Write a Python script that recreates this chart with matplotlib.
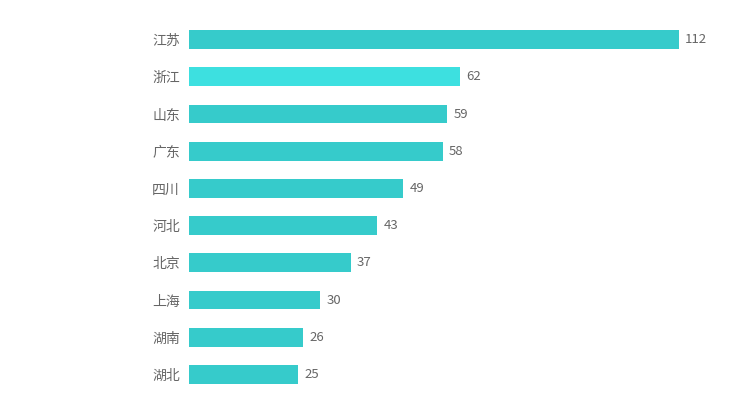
import matplotlib
matplotlib.use("Agg")
import matplotlib.pyplot as plt

plt.rcParams['font.family'] = ['Noto Sans CJK SC', 'DejaVu Sans']

# Data
provinces = ["江苏", "浙江", "山东", "广东", "四川", "河北", "北京", "上海", "湖南", "湖北"]
counts = [112, 62, 59, 58, 49, 43, 37, 30, 26, 25]
highlight = "浙江"

base_color = "#36cbcb"
hi_color = "#3de0e0"
text_color = "#666666"

fig = plt.figure(figsize=(7.34, 3.98), dpi=100)
W, H = 734, 398
ax = fig.add_axes([189 / W, 1 - 393 / H, (679 - 189) / W, (393 - 21) / H])

y = list(range(len(provinces)))
colors = [hi_color if p == highlight else base_color for p in provinces]
bars = ax.barh(y, counts, height=0.51, color=colors)

for yi, v in zip(y, counts):
    ax.annotate(str(v), xy=(v, yi), xytext=(4.5, 0), textcoords="offset points",
                va="center", ha="left", fontsize=9.5, color=text_color)

ax.set_xlim(0, 112)
ax.set_ylim(len(provinces) - 0.5, -0.5)
ax.set_yticks(y)
ax.set_yticklabels(provinces, fontsize=10, color=text_color)
ax.tick_params(axis="y", length=0, pad=6.5)
ax.set_xticks([])
for s in ax.spines.values():
    s.set_visible(False)

fig.savefig("out.png", dpi=100)
